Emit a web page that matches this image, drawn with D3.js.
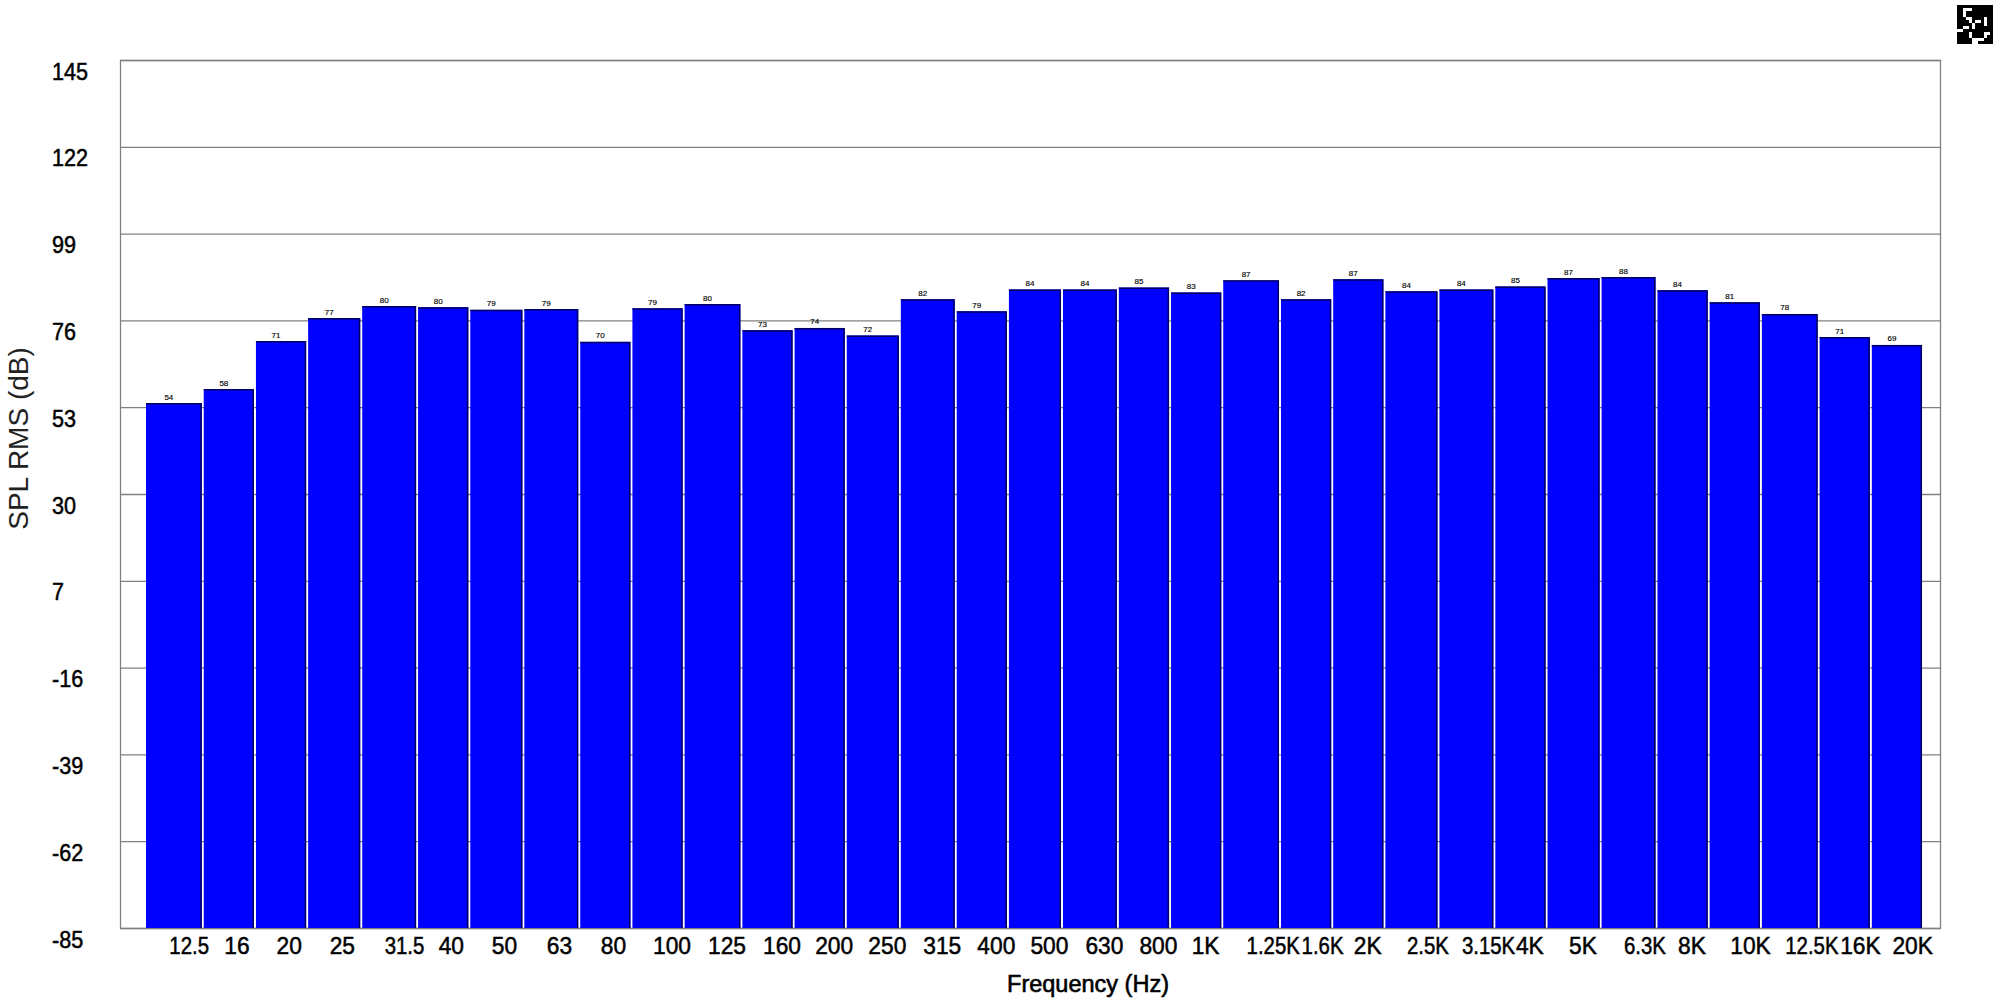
<!DOCTYPE html>
<html>
<head>
<meta charset="utf-8">
<script src="https://cdnjs.cloudflare.com/ajax/libs/d3/7.8.5/d3.min.js"></script>
<style>
html, body { margin: 0; padding: 0; background: #fff; }
svg { display: block; }
text { font-family: "Liberation Sans", Arial, sans-serif; fill: #000; }
</style>
</head>
<body>
<svg></svg>
<script>
// one third octave bands, nominal centre frequency in Hz
var freqs = [12.5, 16, 20, 25, 31.5, 40, 50, 63, 80, 100, 125, 160, 200, 250, 315, 400, 500, 630, 800, 1000, 1250, 1600, 2000, 2500, 3150, 4000, 5000, 6300, 8000, 10000, 12500, 16000, 20000];
var freqLabels = ['12.5', '16', '20', '25', '31.5', '40', '50', '63', '80', '100', '125', '160', '200', '250', '315', '400', '500', '630', '800', '1K', '1.25K', '1.6K', '2K', '2.5K', '3.15K', '4K', '5K', '6.3K', '8K', '10K', '12.5K', '16K', '20K'];
var nextBand = 25000; // upper edge of the last bar

// bar heights
var splValues = [54.1, 57.8, 70.5, 76.6, 79.8, 79.5, 78.8, 79, 70.3, 79.2, 80.3, 73.4, 74, 72, 81.6, 78.4, 84.2, 84.2, 84.7, 83.4, 86.6, 81.6, 86.9, 83.7, 84.2, 85, 87.2, 87.5, 84, 80.8, 77.7, 71.6, 69.5];
// the printed numbers above the bars
var splLabels = [54, 58, 71, 77, 80, 80, 79, 79, 70, 79, 80, 73, 74, 72, 82, 79, 84, 84, 85, 83, 87, 82, 87, 84, 84, 85, 87, 88, 84, 81, 78, 71, 69];
var yTicks = [145, 122, 99, 76, 53, 30, 7, -16, -39, -62, -85];

// little logo top right
var logoRows = [
    '############',
    '##...#######',
    '##.#########',
    '##.#########',
    '###..####.##',
    '####.#..#.##',
    '#####.###.##',
    '##..#.######',
    '..##########',
    '####.####..#',
    '####.####.##',
    '#####....###',
    '#####..#####'
];

var svgWidth = 2000, svgHeight = 1000;
var left = 120, right = 1940, top_ = 60, bottom = 928;

var svg = d3.select('svg')
    .attr('width', svgWidth)
    .attr('height', svgHeight);

var x = d3.scaleLog().domain([12.5, nextBand]).range([146, 1924]);
var y = d3.scaleLinear().domain([-85, 145]).range([bottom, top_]);

var edges = freqs.concat([nextBand]);
function barLeft(i) { return x(edges[i]); }
function barRight(i) { return x(edges[i + 1]) - 2; }
function barMid(i) { return (barLeft(i) + barRight(i)) / 2; }

// frame and grid
var yAxis = svg.append('g')
    .attr('transform', 'translate(' + left + ',0)')
    .call(d3.axisLeft(y).tickValues(yTicks).tickSize(-(right - left)).tickPadding(0)
        .tickFormat(function(d) { return String(d); })); // plain hyphen, not the d3 minus
yAxis.select('.domain').remove();
yAxis.selectAll('line').attr('stroke', '#808080').attr('stroke-width', 1.3);
yAxis.selectAll('text')
    .attr('text-anchor', 'start')
    .attr('x', 0)
    .attr('dy', 0)
    .attr('y', 19)
    .attr('transform', 'translate(' + (52 - left) + ',0) scale(0.9,1)')
    .style('font-size', '24px')
    .style('stroke', '#000')
    .style('stroke-width', '0.5px');

svg.append('rect')
    .attr('x', left + 0.5).attr('y', top_ + 0.5)
    .attr('width', right - left).attr('height', bottom - top_)
    .attr('fill', 'none')
    .attr('stroke', '#808080')
    .attr('stroke-width', 1.3);

// bars
var bars = svg.selectAll('.bar').data(splValues).enter().append('g').attr('class', 'bar');
bars.append('rect')
    .attr('x', function(d, i) { return barLeft(i); })
    .attr('y', function(d) { return y(d); })
    .attr('width', function(d, i) { return barRight(i) - barLeft(i); })
    .attr('height', function(d) { return bottom - y(d); })
    .attr('fill', '#0000ff');
// dark edge along top and right of each bar
bars.append('path')
    .attr('d', function(d, i) {
        var r = barRight(i) - 0.7;
        return 'M' + barLeft(i) + ',' + (y(d) + 0.7) + 'H' + r + 'V' + bottom;
    })
    .attr('fill', 'none')
    .attr('stroke', '#000060')
    .attr('stroke-width', 1.5);

// value labels
svg.selectAll('.val').data(splLabels).enter().append('text')
    .attr('class', 'val')
    .attr('x', function(d, i) { return barMid(i) - 5; })
    .attr('y', function(d, i) { return y(splValues[i]) - 3.5; })
    .attr('text-anchor', 'middle')
    .style('font-size', '8px')
    .style('stroke', '#000')
    .style('stroke-width', '0.15px')
    .text(function(d) { return d; });

// x axis, labels start a bit left of the bar middle
var xAxis = svg.append('g')
    .attr('transform', 'translate(0,' + bottom + ')')
    .call(d3.axisBottom(x).tickValues(freqs).tickSize(0)
        .tickFormat(function(d) { return freqLabels[freqs.indexOf(d)]; }));
xAxis.select('.domain').remove();
xAxis.selectAll('text')
    .attr('text-anchor', 'start')
    .attr('x', 0)
    .attr('y', 26)
    .attr('dy', 0)
    .attr('transform', function(d) {
        var i = freqs.indexOf(d);
        // the dotted labels run narrower in the original
        var sx = freqLabels[i].indexOf('.') >= 0 ? 0.85 : 0.95;
        return 'translate(' + (barMid(i) - 5 - x(d)) + ',0) scale(' + sx + ',1)';
    })
    .style('font-size', '24px')
    .style('stroke', '#000')
    .style('stroke-width', '0.5px');

// titles
svg.append('text')
    .attr('x', 1088)
    .attr('y', 992)
    .attr('text-anchor', 'middle')
    .style('font-size', '23.5px')
    .style('stroke', '#000')
    .style('stroke-width', '0.6px')
    .text('Frequency (Hz)');

svg.append('text')
    .attr('transform', 'translate(28,438.5) rotate(-90)')
    .attr('text-anchor', 'middle')
    .style('font-size', '28px')
    .style('fill', '#222')
    .text('SPL RMS (dB)');

// logo
var logoX = d3.scaleBand().domain(d3.range(12)).range([1957, 1993]);
var logoY = d3.scaleBand().domain(d3.range(13)).range([5, 44]);
var logo = svg.append('g');
logoRows.forEach(function(row, r) {
    row.split('').forEach(function(c, k) {
        logo.append('rect')
            .attr('x', logoX(k)).attr('y', logoY(r))
            .attr('width', logoX.bandwidth()).attr('height', logoY.bandwidth())
            .attr('fill', c === '#' ? '#000' : '#fff');
    });
});
</script>
</body>
</html>
